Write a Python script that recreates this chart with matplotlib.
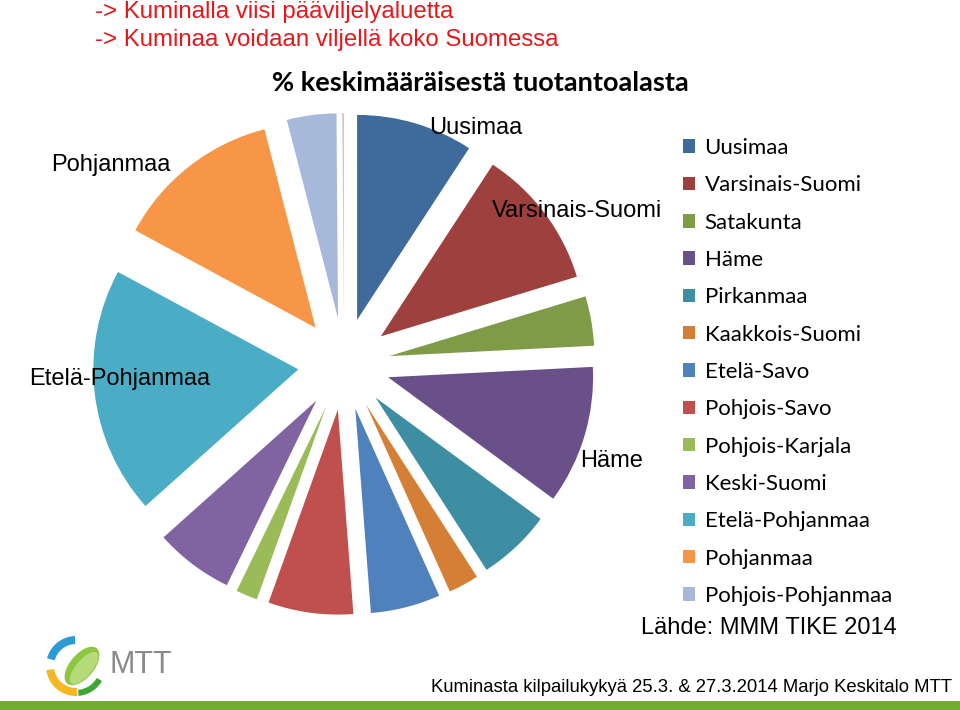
#! /usr/bin/env python3
# Kumina: % keskimääräisestä tuotantoalasta (pie, exploded wedges)

import matplotlib
matplotlib.use('Agg')
import matplotlib.pyplot as plt
from matplotlib.patches import Wedge, Ellipse, Rectangle

# Data
regions = ['Uusimaa', 'Varsinais-Suomi', 'Satakunta', 'Häme', 'Pirkanmaa',
           'Kaakkois-Suomi', 'Etelä-Savo', 'Pohjois-Savo', 'Pohjois-Karjala',
           'Keski-Suomi', 'Etelä-Pohjanmaa', 'Pohjanmaa', 'Pohjois-Pohjanmaa',
           'Muut']
share = [9.2, 11.1, 3.9, 10.9, 5.8, 2.4, 5.5, 6.7, 1.7, 6.2, 19.5, 13.1, 3.9, 0.12]
colors = ['#3f6a9c', '#9e413e', '#7f9b48', '#6a5088', '#3d8da3', '#d57f36',
          '#4f81bd', '#c0504d', '#9bbb59', '#8064a2', '#4bacc6', '#f79646',
          '#a7b9da', '#c8bec8']
shown_labels = ['Uusimaa', 'Varsinais-Suomi', 'Häme', 'Etelä-Pohjanmaa', 'Pohjanmaa']

W, H = 960, 710

def fx(x):
    return x / W

def fy(y):
    return 1 - y / H

fig = plt.figure(figsize=(9.6, 7.1), dpi=100)

#------------------------------------------------------------------------------
# Header texts
#------------------------------------------------------------------------------
red = '#e3191c'
fig.text(fx(95), fy(12), '-> Kuminalla viisi pääviljelyaluetta', color=red,
         family='Liberation Sans', fontsize=17.3, va='center', ha='left')
fig.text(fx(95), fy(40), '-> Kuminaa voidaan viljellä koko Suomessa', color=red,
         family='Liberation Sans', fontsize=17.3, va='center', ha='left')
fig.text(fx(480), fy(83), '% keskimääräisestä tuotantoalasta', color='black',
         family='Lato', fontweight='bold', fontsize=19.5, va='center', ha='center')

#------------------------------------------------------------------------------
# Pie
#------------------------------------------------------------------------------
cx, cy, r = 344, 364, 205
half = 260
ax = fig.add_axes([fx(cx - half), fy(cy + half), 2 * half / W, 2 * half / H])
wedges, _ = ax.pie(share, colors=colors, startangle=90, counterclock=False,
                   explode=[46 / r] * len(share), radius=1,
                   wedgeprops=dict(linewidth=0))
L = half / r
ax.set_xlim(-L, L)
ax.set_ylim(-L, L)
ax.set_aspect('auto')
ax.axis('off')

# Data labels (Excel best-fit positions, pixel coordinates)
label_pos = {'Uusimaa': (476, 128), 'Varsinais-Suomi': (577, 211),
             'Häme': (612, 461), 'Etelä-Pohjanmaa': (120, 379),
             'Pohjanmaa': (111, 165)}
for name in shown_labels:
    px, py = label_pos[name]
    ax.text((px - cx) / r, (cy - py) / r, name, family='Liberation Sans',
            fontsize=17, ha='center', va='center', color='black')

#------------------------------------------------------------------------------
# Legend
#------------------------------------------------------------------------------
fig.legend(wedges[:13], regions[:13], loc='upper left',
           bbox_to_anchor=(fx(683), fy(138)), frameon=False,
           prop={'family': 'Lato', 'size': 16}, handlelength=0.55,
           handleheight=0.55, handletextpad=0.42, labelspacing=0.78,
           borderpad=0, borderaxespad=0)

fig.text(fx(641), fy(628), 'Lähde: MMM TIKE 2014', family='Liberation Sans',
         fontsize=17, ha='left', va='center')

#------------------------------------------------------------------------------
# Footer: logo, text, green bar
#------------------------------------------------------------------------------
lax = fig.add_axes([fx(40), fy(702), 80 / W, 72 / H])
lax.set_xlim(0, 80)
lax.set_ylim(0, 72)
lax.axis('off')
lax.add_patch(Wedge((36, 36), 30, 92, 165, width=8, color='#2b9ad6', linewidth=0))
lax.add_patch(Wedge((36, 36), 30, 188, 272, width=8, color='#f4b622', linewidth=0))
lax.add_patch(Wedge((36, 36), 30, 275, 330, width=6, color='#3fa535', linewidth=0))
lax.add_patch(Ellipse((42, 36), 46, 24, angle=50, color='#8dc63f', linewidth=0))
lax.add_patch(Ellipse((44, 34), 40, 16, angle=50, color='#b5db7a', linewidth=0))

fig.text(fx(110), fy(665), 'MTT', family='Liberation Sans', color='#8a8a8a',
         fontsize=22, ha='left', va='center')

fig.text(fx(952), fy(688), 'Kuminasta kilpailukykyä 25.3. & 27.3.2014 Marjo Keskitalo MTT',
         family='Liberation Sans', fontsize=13.3, ha='right', va='center')

fig.patches.append(Rectangle((0, 0), 1, fy(701), transform=fig.transFigure,
                             color='#72ad2f', linewidth=0))

# Save figure
plt.savefig('out.png', dpi=100)
